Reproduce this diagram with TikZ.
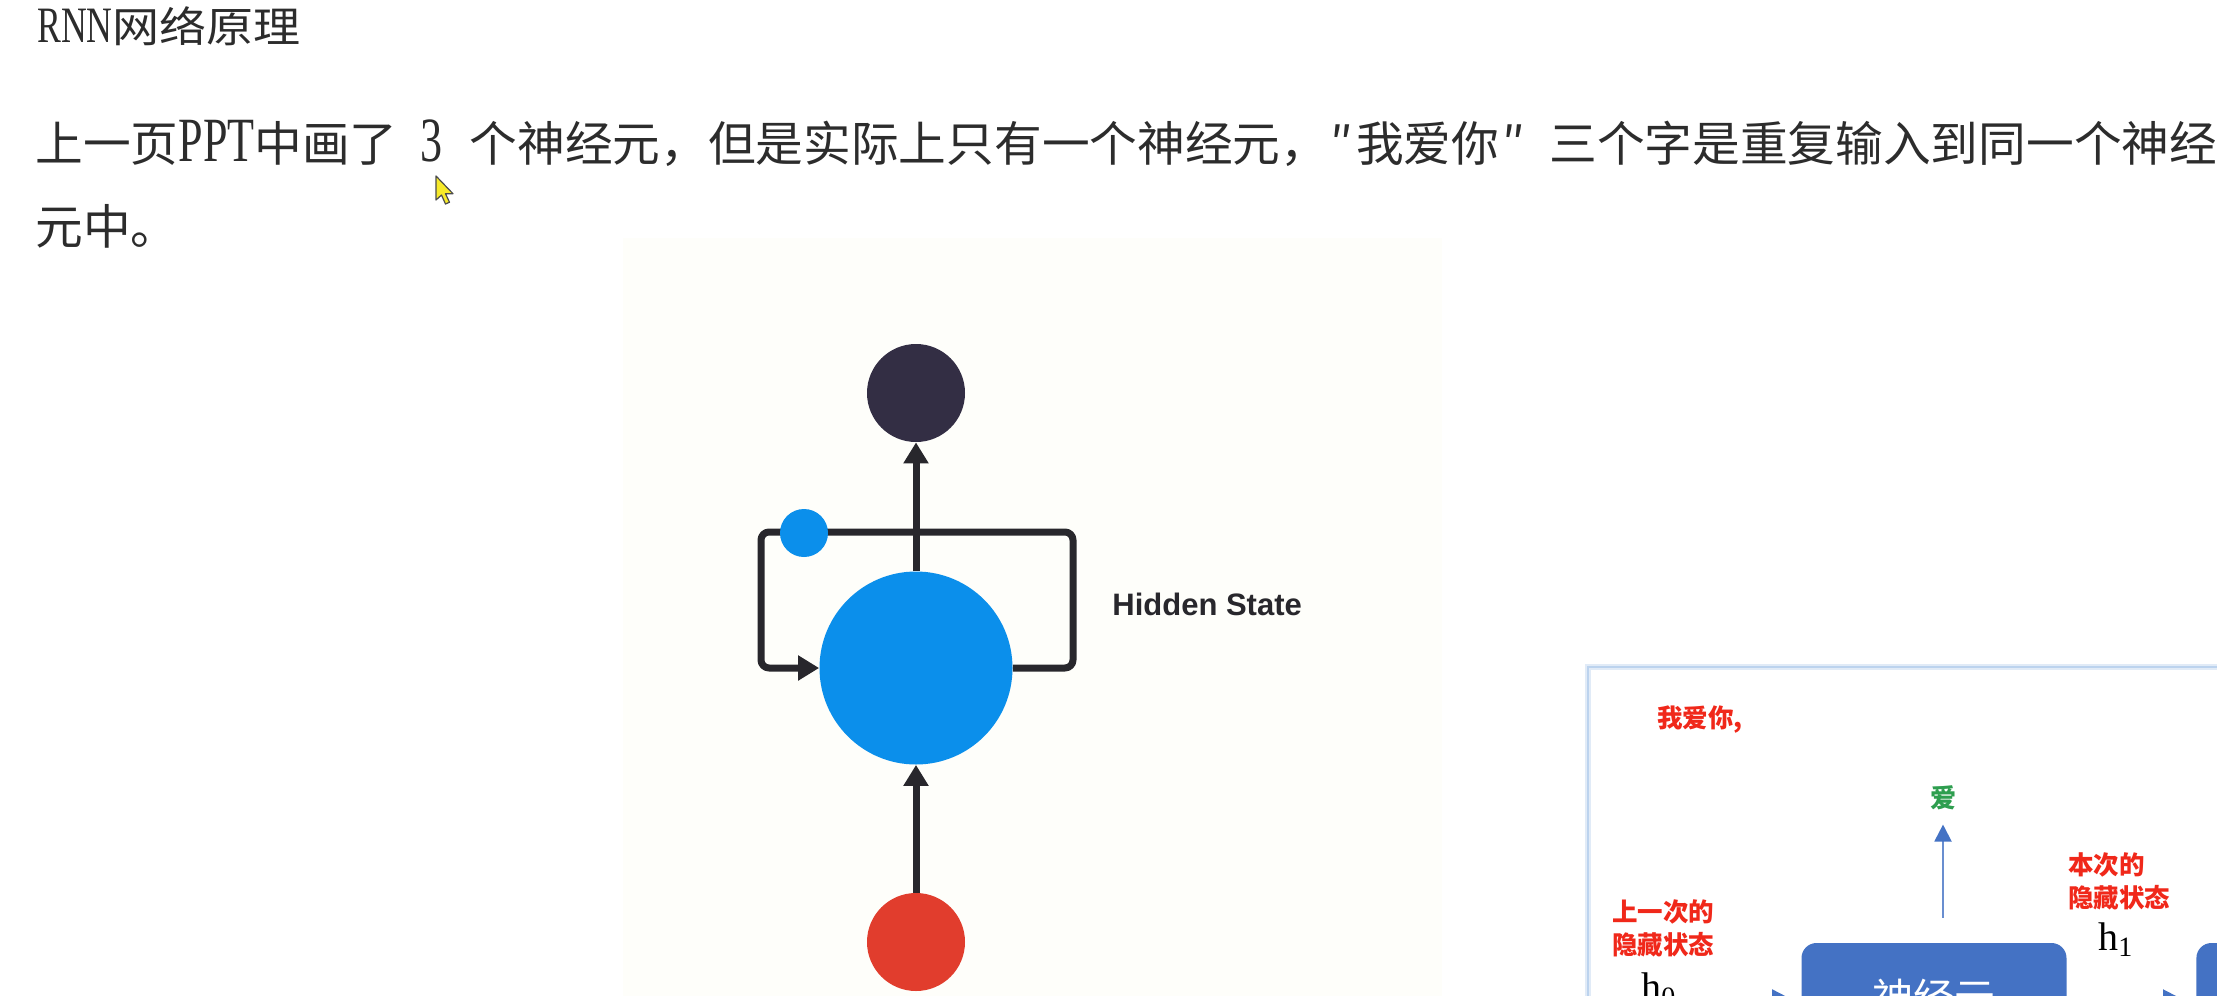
\documentclass[tikz,border=0pt]{standalone}
\usepackage{fontspec}
\setmainfont{Noto Sans CJK SC}
\newfontfamily\latin[FakeStretch=0.7]{Liberation Serif}
\newfontfamily\cjkwide[FakeStretch=1.12]{Noto Sans CJK SC}
\newfontfamily\labelfont{Liberation Sans}
\newfontfamily\hfont{Liberation Serif}
\usetikzlibrary{positioning}
\usetikzlibrary{arrows.meta}
\definecolor{inkgray}{HTML}{2C2C2C}
\definecolor{cream}{HTML}{FEFEFA}
\definecolor{outdark}{HTML}{332E44}
\definecolor{hidblue}{HTML}{0B8FEB}
\definecolor{inred}{HTML}{E13D2D}
\definecolor{wiregray}{HTML}{28272C}
\definecolor{redtxt}{HTML}{F0281A}
\definecolor{greentxt}{HTML}{2E9E4F}
\definecolor{pptblue}{HTML}{4472C4}
\definecolor{framecol}{HTML}{BCD3EE}
\definecolor{cursoryellow}{HTML}{F7EA2A}
\newcommand{\paralatin}[1]{{\latin\fontsize{31.5pt}{36pt}\selectfont #1}}
\tikzstyle{txt} = [inner sep=0pt, anchor=base west, text=inkgray]
\tikzstyle{para} = [txt, font=\fontsize{23.85pt}{28pt}\selectfont]
\tikzstyle{ball} = [circle, inner sep=0pt, draw=none]
\tikzstyle{outball} = [ball, fill=outdark, minimum size=49pt]
\tikzstyle{hidball} = [ball, fill=hidblue, minimum size=96.5pt]
\tikzstyle{inball} = [ball, fill=inred, minimum size=49pt]
\tikzstyle{memball} = [ball, fill=hidblue, minimum size=24pt]
\tikzstyle{wire} = [line width=3.5pt, draw=wiregray, line join=round,
-{Triangle[length=10.5pt,width=12pt]}]
\tikzstyle{bluearrow} = [line width=1pt, draw=pptblue!80,
-{Triangle[length=8.5pt,width=8.5pt,color=pptblue]}]
\tikzstyle{redlabel} = [inner sep=0pt, anchor=west, align=left, text=redtxt,
font=\bfseries\fontsize{12.75pt}{16.5pt}\selectfont]
\tikzstyle{neuronbox} = [rectangle, rounded corners=7.5pt, fill=pptblue,
minimum height=55pt, inner sep=0pt, text=white,
font=\fontsize{20.5pt}{24pt}\selectfont]
\tikzstyle{frame} = [line width=1pt, draw=framecol]
\tikzstyle{frameglow} = [line width=3pt, draw=framecol!45]

\begin{document}
\begin{tikzpicture}[x=0.5pt, y=-0.5pt]
    \useasboundingbox (0,0) rectangle (2217,996);
    \clip (0,0) rectangle (2217,996);
    \fill [white] (0,0) rectangle (2217,996);

    % text of the note
    \node (title) [txt] at (37,42) {{\latin\fontsize{25.5pt}{30pt}\selectfont RNN}{\cjkwide\fontsize{21pt}{26pt}\selectfont 网络原理}};
    \node (line1) [para] at (35,161) {上一页\paralatin{PPT}中画了\hspace{11.5pt}\paralatin{3}\hspace{13.5pt}个神经元，但是实际上只有一个神经元，\makebox[14pt]{″}我爱你\makebox[14pt]{″}\hspace{11pt}三个字是重复输入到同一个神经};
    \node (line2) [para] at (35,244) {元中。};
    \filldraw [fill=cursoryellow, draw=black!70, line width=0.6pt, line join=round]
        (436,176) -- ++(0,24) -- ++(5.5,-5) -- ++(4,9) -- ++(4,-1.8) -- ++(-4,-8.5) -- ++(7.5,0) -- cycle;

    % left picture
    \fill [cream] (623,238) rectangle (1442,996);
    \node (out) [outball] at (916,393) {};
    \node (hid) [hidball] at (916,668) {};
    \node (in) [inball] at (916,942) {};
    \coordinate (loopne) at (1073,532);
    \coordinate (loopnw) at (761,532);
    \draw [wire, rounded corners=4pt] (hid.east) -| (loopne) -- (loopnw) |- (hid.west);
    \draw [wire] (hid) -- (out);
    \draw [wire] (in) -- (hid);
    \node (mem) [memball] at (804,533) {};
    \node (hslabel) [anchor=west, inner sep=0pt, text=wiregray, font=\labelfont\bfseries\fontsize{15.5pt}{18pt}\selectfont] at (1112,604) {Hidden State};

    % right picture
    \draw [frameglow] (1588,667) rectangle (2300,1060);
    \draw [frame] (1588,667) rectangle (2300,1060);
    \node (words) [redlabel] at (1657,720) {我爱你,};
    \node (ai) [inner sep=0pt, text=greentxt, font=\bfseries\fontsize{13pt}{16pt}\selectfont] at (1943,798) {爱};
    \node (prevlbl) [redlabel] at (1612,928) {上一次的\\隐藏状态};
    \node (curlbl) [redlabel] at (2068,881) {本次的\\隐藏状态};
    \node (h0) [txt, text=black, font=\hfont\fontsize{20pt}{24pt}\selectfont] at (1641,1000) {h\textsubscript{0}};
    \node (h1) [txt, text=black, font=\hfont\fontsize{20pt}{24pt}\selectfont] at (2098,950) {h\textsubscript{1}};
    \node (neuron) [neuronbox, minimum width=132.5pt] at (1934,998) {神经元};
    \node (nextbox) [neuronbox, minimum width=60pt, anchor=west] at (2196,998) {};

    \draw [bluearrow, shorten >=7pt] (ai |- neuron.north) ++(0,-25) -- (ai);
    \draw [bluearrow, shorten <=6pt, shorten >=6pt] (h0.east |- neuron) -- (neuron.west);
    \draw [bluearrow, shorten <=6.5pt, shorten >=8pt] (neuron.east) -- (nextbox.west);
\end{tikzpicture}
\end{document}
